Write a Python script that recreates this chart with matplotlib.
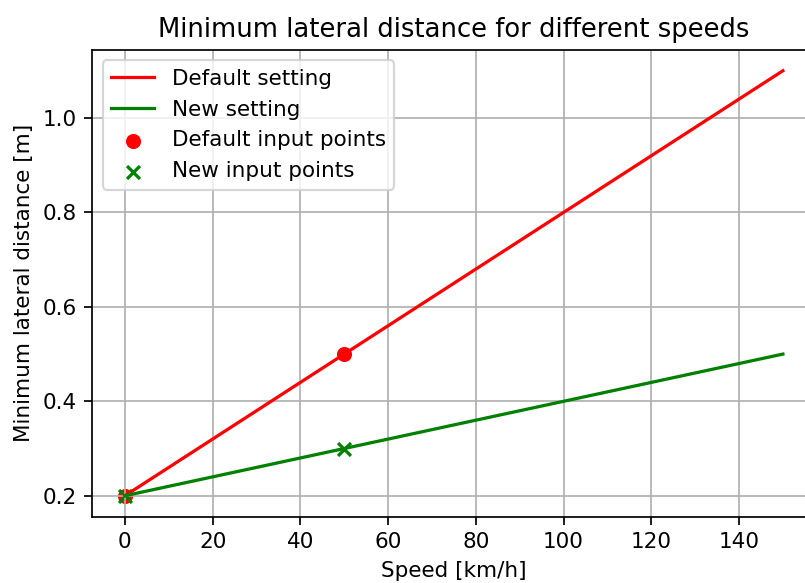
import matplotlib
matplotlib.use("Agg")
import matplotlib.pyplot as plt

# line end points (speed in km/h, distance in m)
speed_line = [0, 150]
default_line = [0.2, 1.1]
new_line = [0.2, 0.5]

# input points
speed_pts = [0, 50]
default_pts = [0.2, 0.5]
new_pts = [0.2, 0.3]

dpi = 155
fig = plt.figure(figsize=(805 / dpi, 583 / dpi), dpi=dpi)
# right spine lies just outside the saved picture in the reference
ax = fig.add_axes([92 / 805, 1 - 517 / 583, (815.8 - 92) / 805, (517 - 49.5) / 583])
ax.spines['right'].set_visible(False)

ax.plot(speed_line, default_line, color='red', label='Default setting')
ax.plot(speed_line, new_line, color='green', label='New setting')
ax.scatter(speed_pts, default_pts, marker='o', color='red', label='Default input points')
ax.scatter(speed_pts, new_pts, marker='x', color='green', label='New input points')

ax.set_xlabel("Speed [km/h]")
ax.set_ylabel("Minimum lateral distance [m]")
ax.set_title("Minimum lateral distance for different speeds")
ax.grid(True)
ax.legend(loc='upper left')

fig.savefig("out.png", dpi=dpi)
